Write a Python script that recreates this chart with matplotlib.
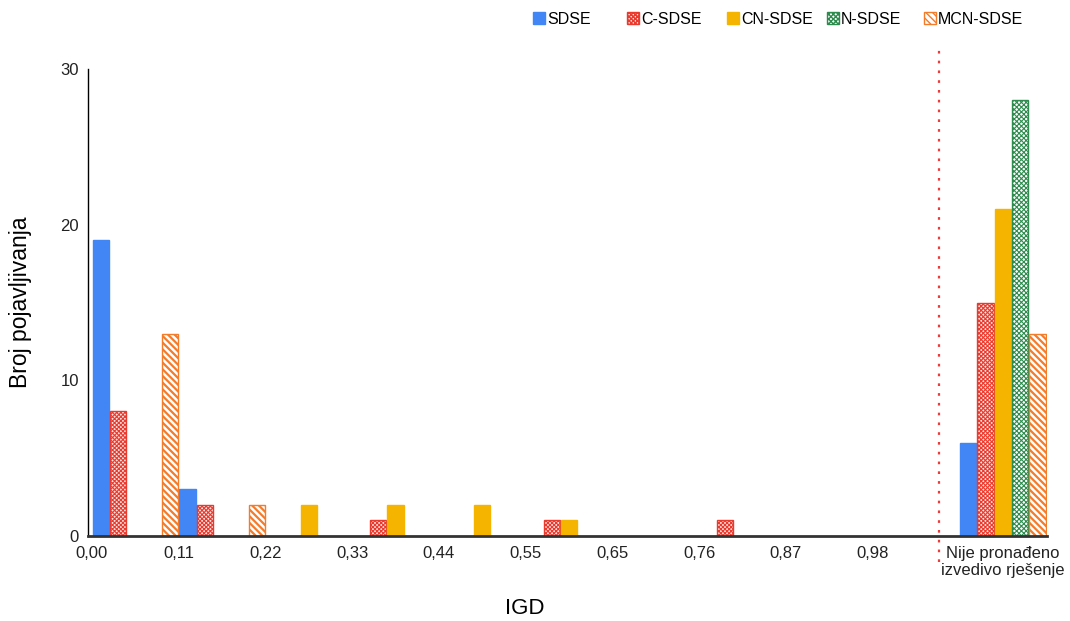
import matplotlib
matplotlib.use("Agg")
import matplotlib.pyplot as plt
import numpy as np

plt.rcParams['font.family'] = ['Liberation Sans', 'DejaVu Sans']
plt.rcParams['hatch.linewidth'] = 1.0

# kategorije (IGD) + zadnja skupina bez rjesenja
tick_labels = ["0,00", "0,11", "0,22", "0,33", "0,44", "0,55",
               "0,65", "0,76", "0,87", "0,98"]
last_label = "Nije pronađeno\nizvedivo rješenje"

series = ["SDSE", "C-SDSE", "CN-SDSE", "N-SDSE", "MCN-SDSE"]
sdse = [19, 3, 0, 0, 0, 0, 0, 0, 0, 0, 6]
c_sdse = [8, 2, 0, 1, 0, 1, 0, 1, 0, 0, 15]
cn_sdse = [0, 0, 2, 2, 2, 1, 0, 0, 0, 0, 21]
n_sdse = [0, 0, 0, 0, 0, 0, 0, 0, 0, 0, 28]
mcn_sdse = [13, 2, 0, 0, 0, 0, 0, 0, 0, 0, 13]

values = [sdse, c_sdse, cn_sdse, n_sdse, mcn_sdse]
# (fill, edge, hatch, hatch lw)
styles = [
    ("#4285F4", "#4285F4", None, 1.0),
    ("#FBE3E1", "#EA3A2E", "xxxxxxxx", 0.8),
    ("#F4B400", "#F4B400", None, 1.0),
    ("white", "#2E8B4E", "xxxxxxx", 0.8),
    ("white", "#F47B2A", "\\\\\\\\\\", 1.6),
]

fig = plt.figure(figsize=(10.7, 6.21), dpi=100)
ax = fig.add_axes([88 / 1070, 1 - 536 / 621, (1047 - 88) / 1070, (536 - 69) / 621])

x = np.arange(len(sdse))
w = 0.2
handles = []
for k, (name, vals) in enumerate(zip(series, values)):
    fc, ec, hatch, hlw = styles[k]
    v = np.array(vals, dtype=float)
    mask = v > 0
    b = ax.bar(x[mask] + w * k + w / 2, v[mask], width=w * 0.94,
               color=fc, edgecolor=ec, hatch=hatch, linewidth=1.0,
               label=name, zorder=2)
    for p in b.patches:
        if hasattr(p, "set_hatch_linewidth"):
            p.set_hatch_linewidth(hlw)
    handles.append(b)

ax.set_xlim(-0.046, 11.01)
ax.set_ylim(0, 30)
ax.set_yticks([0, 10, 20, 30])
ax.set_xticks(list(range(len(tick_labels))) + [10.5])
ax.set_xticklabels(tick_labels + [last_label])
ax.tick_params(axis='both', length=0, labelsize=12, colors='#222222')
ax.tick_params(axis='x', pad=7)
ax.tick_params(axis='y', pad=6.5)

for s in ['top', 'right']:
    ax.spines[s].set_visible(False)
ax.spines['left'].set_color('black')
ax.spines['left'].set_linewidth(1.0)
ax.spines['bottom'].set_color('#333333')
ax.spines['bottom'].set_linewidth(2.0)
ax.spines['bottom'].set_zorder(3)

# crvena tockasta granica
ax.plot([9.76, 9.76], [-1.7, 31.2], color='#F03A3A', linestyle=(0, (1.2, 3.2)),
        linewidth=1.6, clip_on=False, zorder=1)

ax.set_ylabel("Broj pojavljivanja", fontsize=16.5)
ax.yaxis.set_label_coords(-0.058, 0.5)
ax.set_xlabel("IGD", fontsize=16)
ax.xaxis.set_label_coords(0.455, -0.133)

# legenda: svaka stavka na svom mjestu
leg_x = [533, 627, 727, 827, 924]
for h, name, lx in zip(handles, series, leg_x):
    lg = fig.legend(handles=[h], labels=[name], loc='center left',
                    bbox_to_anchor=(lx / 1070, 1 - 19 / 621), frameon=False,
                    fontsize=11.5, handlelength=0.75, handleheight=0.75,
                    handletextpad=0.12, borderaxespad=0, borderpad=0)

fig.savefig("out.png", dpi=100)
